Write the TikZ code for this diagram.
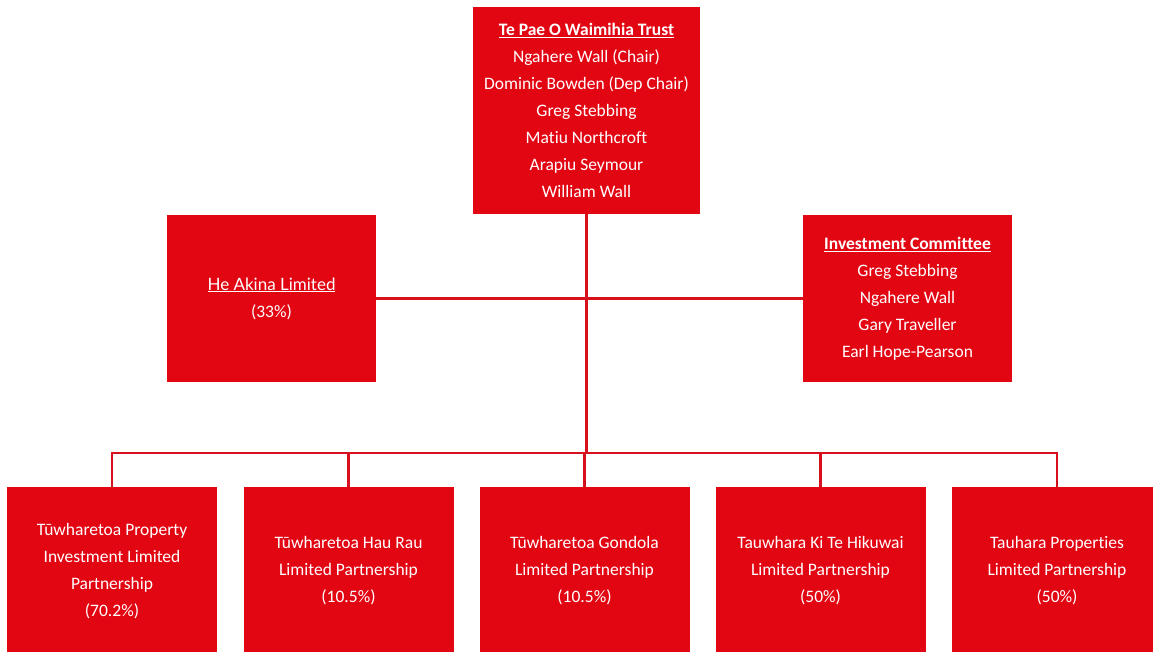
\documentclass[tikz,border=0pt]{standalone}
\usepackage{fontspec}
\setmainfont[Ligatures=NoCommon]{Carlito}
\newfontfamily\akinafont{Lato}
\usepackage{tikz}
\usetikzlibrary{positioning}
\definecolor{boxred}{RGB}{226, 6, 19}
\definecolor{linered}{RGB}{214, 16, 28}

\begin{document}
\begin{tikzpicture}[x=1pt,y=-1pt,
        orgbox/.style={shape=rectangle,
              fill=boxred,
              text=white,
              align=center,
              inner sep=0pt,
              font=\fontsize{17.5}{27}\selectfont},
        link/.style={draw=linered,
              line width=2.6pt}]
        \useasboundingbox (0,0) rectangle (1153,651);
        \node[orgbox,
              minimum width = 227pt,
              minimum height = 207pt] (trust) at (586.5,110.5)
              {\textbf{\underline{Te Pae O Waimihia Trust}}\\Ngahere Wall (Chair)\\Dominic Bowden (Dep Chair)\\Greg Stebbing\\Matiu Northcroft\\Arapiu Seymour\\William Wall};
        \node[orgbox,
              minimum width = 209pt,
              minimum height = 167pt] (akina) at (271.5,298.5)
              {\akinafont\fontsize{17}{25}\selectfont\underline{He Akina Limited}\\(33\%)};
        \node[orgbox,
              minimum width = 209pt,
              minimum height = 167pt] (committee) at (907.5,298.5)
              {\textbf{\underline{Investment Committee}}\\Greg Stebbing\\Ngahere Wall\\Gary Traveller\\Earl Hope-Pearson};
        \node[orgbox,
              minimum width = 210pt,
              minimum height = 168pt] (property) at (112,571)
              {Tūwharetoa Property\\Investment Limited\\Partnership\\(70.2\%)};
        \node[orgbox,
              minimum width = 210pt,
              minimum height = 168pt] (haurau) at (348.5,571)
              {Tūwharetoa Hau Rau\\Limited Partnership\\(10.5\%)};
        \node[orgbox,
              minimum width = 210pt,
              minimum height = 168pt] (gondola) at (584.5,571)
              {Tūwharetoa Gondola\\Limited Partnership\\(10.5\%)};
        \node[orgbox,
              minimum width = 210pt,
              minimum height = 168pt] (hikuwai) at (820.5,571)
              {Tauwhara Ki Te Hikuwai\\Limited Partnership\\(50\%)};
        \node[orgbox,
              minimum width = 210pt,
              minimum height = 168pt] (tauhara) at (1057,571)
              {Tauhara Properties\\Limited Partnership\\(50\%)};
        \coordinate (bus) at (586.5,453);
        \draw[link] (akina.east) -- (committee.west);
        \draw[link] (trust.south) -- (bus);
        \foreach \unit in {property,haurau,gondola,hikuwai,tauhara}
            \draw[link] (bus) -| (\unit.north);
    \end{tikzpicture}
\end{document}
